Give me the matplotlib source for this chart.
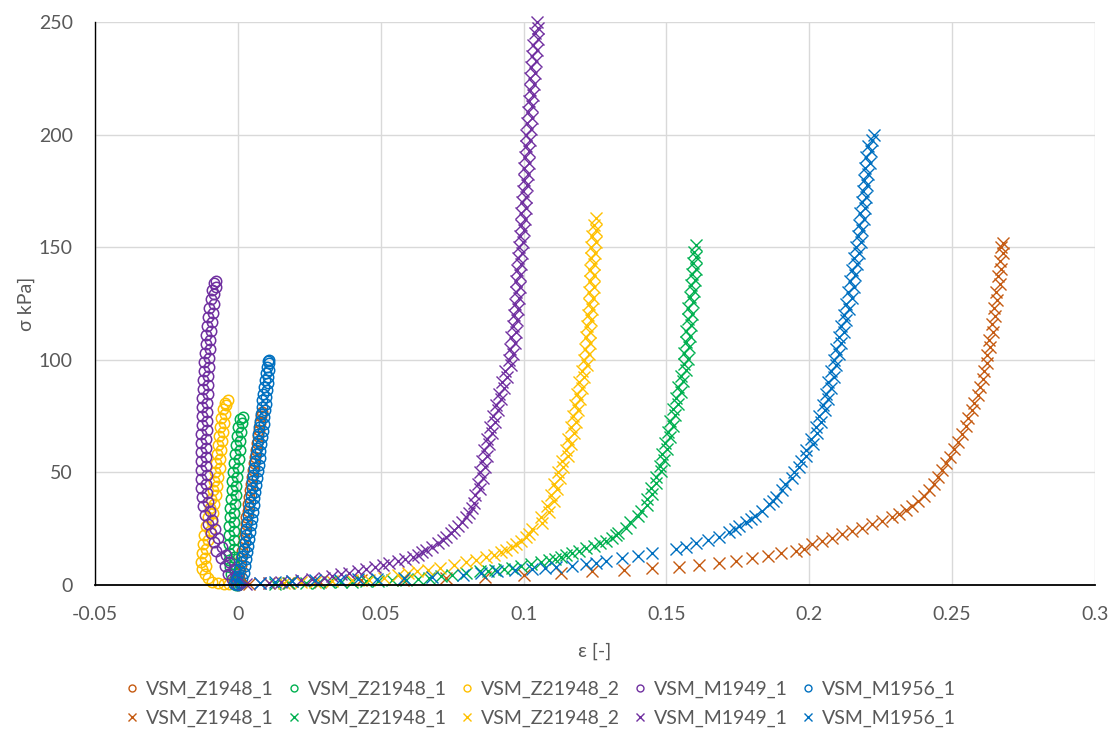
import matplotlib
matplotlib.use("Agg")
import matplotlib.pyplot as plt
from matplotlib.lines import Line2D

# ---------------- data ----------------
series_names = ["VSM_Z1948_1", "VSM_Z21948_1", "VSM_Z21948_2", "VSM_M1949_1", "VSM_M1956_1"]
series_colors = ["#C55A11", "#00B050", "#FFC000", "#7030A0", "#0070C0"]

x_ticks = [-0.05, 0, 0.05, 0.1, 0.15, 0.2, 0.25, 0.3]
x_tick_labels = ["-0.05", "0", "0.05", "0.1", "0.15", "0.2", "0.25", "0.3"]
y_ticks = [0, 50, 100, 150, 200, 250]
y_tick_labels = ["0", "50", "100", "150", "200", "250"]

# circle series (eps, sigma)
Z1948_1_circ = [(0.0, 0), (0.0005, 3), (0.0008, 6), (0.001, 9), (0.0012, 12), (0.0014, 15),
                (0.0018, 18), (0.0021, 21), (0.0024, 24), (0.0027, 27), (0.003, 30), (0.0034, 33),
                (0.0037, 36), (0.004, 39), (0.0044, 42), (0.0047, 45), (0.005, 48), (0.0054, 51),
                (0.0057, 54), (0.006, 57), (0.0064, 60), (0.0067, 63), (0.007, 66), (0.0074, 69),
                (0.0077, 72), (0.008, 75), (0.0085, 77)]

Z21948_1_circ = [(-0.0005, 0), (0.0005, 1), (-0.0015, 2), (-0.0005, 3.5), (-0.0025, 5), (-0.001, 6.5),
                 (-0.0028, 8), (-0.0012, 9.5), (-0.003, 11), (-0.0014, 12.5), (-0.003, 14),
                 (-0.0015, 16), (-0.003, 18), (-0.0015, 20), (-0.003, 22), (-0.0014, 24),
                 (-0.003, 26), (-0.0013, 28), (-0.0028, 30), (-0.0012, 32), (-0.0027, 34),
                 (-0.001, 36), (-0.0025, 38), (-0.0008, 40), (-0.0022, 42), (-0.0005, 44),
                 (-0.002, 46), (-0.0003, 48), (-0.0017, 50), (0.0, 52), (-0.0013, 54),
                 (0.0003, 56), (-0.001, 58), (0.0006, 60), (-0.0006, 62), (0.0009, 64),
                 (-0.0003, 66), (0.0012, 68), (0.0, 70), (0.0015, 72), (0.0006, 73.5),
                 (0.0017, 74.5)]

Z21948_2_circ = [(-0.003, 0.3), (-0.005, 0.5), (-0.007, 0.8), (-0.009, 1.5), (-0.0105, 3),
                 (-0.0115, 5), (-0.0125, 7), (-0.011, 8.5), (-0.013, 10), (-0.0115, 12),
                 (-0.0127, 14), (-0.011, 16), (-0.0122, 18), (-0.0105, 20), (-0.0117, 22),
                 (-0.0098, 24), (-0.011, 26), (-0.0092, 28), (-0.0104, 30), (-0.0087, 32),
                 (-0.0098, 34), (-0.0082, 36), (-0.0093, 38), (-0.0077, 40), (-0.0088, 42),
                 (-0.0072, 44), (-0.0083, 46), (-0.0068, 48), (-0.0079, 50), (-0.0064, 52),
                 (-0.0075, 54), (-0.0061, 56), (-0.0072, 58), (-0.0058, 60), (-0.0069, 62),
                 (-0.0055, 64), (-0.0066, 66), (-0.0052, 68), (-0.0062, 70), (-0.0048, 72),
                 (-0.0058, 74), (-0.0044, 76), (-0.0052, 78), (-0.004, 80), (-0.0045, 81),
                 (-0.0035, 82)]

M1949_1_circ = [(-0.0005, 0.5), (0.0008, 1.5), (-0.002, 2.5), (-0.0005, 4), (-0.0035, 5),
                (-0.0015, 7), (-0.0045, 8.5), (-0.003, 10), (-0.006, 12), (-0.004, 13.5),
                (-0.0075, 15), (-0.0055, 17), (-0.0085, 19), (-0.007, 21), (-0.0095, 23),
                (-0.008, 25), (-0.0105, 27), (-0.009, 29), (-0.0115, 31), (-0.0098, 33),
                (-0.0122, 35), (-0.0105, 37), (-0.0127, 39), (-0.0108, 41), (-0.0128, 43),
                (-0.011, 45), (-0.0128, 47), (-0.0108, 49), (-0.013, 51), (-0.011, 53),
                (-0.0129, 55), (-0.011, 57), (-0.013, 59), (-0.0112, 61), (-0.0128, 63),
                (-0.011, 65), (-0.0128, 67), (-0.0108, 69), (-0.0127, 71), (-0.0108, 73),
                (-0.0126, 75), (-0.0108, 77), (-0.0125, 79), (-0.0107, 81), (-0.0124, 83),
                (-0.0106, 85), (-0.0123, 87), (-0.0105, 89), (-0.0122, 91), (-0.0104, 93),
                (-0.012, 95), (-0.0102, 97), (-0.0118, 99), (-0.010, 101), (-0.0116, 103),
                (-0.0098, 105), (-0.0113, 107), (-0.0096, 109), (-0.011, 111), (-0.0093, 113),
                (-0.0107, 115), (-0.009, 117), (-0.0104, 119), (-0.0088, 121), (-0.010, 123),
                (-0.0085, 125), (-0.0095, 127), (-0.0082, 129), (-0.009, 131), (-0.0078, 132.5),
                (-0.0085, 134), (-0.0075, 135)]

M1956_1_circ = [(0.0, 0), (-0.0012, 0.5), (0.001, 1), (-0.0005, 2), (0.0015, 3), (0.0, 4),
                (0.002, 5.5), (0.0005, 7), (0.0025, 8.5), (0.001, 10), (0.003, 11.5),
                (0.0015, 13), (0.0033, 14.5), (0.002, 16), (0.0037, 17.5), (0.0025, 19),
                (0.004, 20.5), (0.0028, 22), (0.0043, 23.5), (0.003, 25), (0.0046, 26.5),
                (0.0033, 28), (0.0049, 29.5), (0.0036, 31), (0.0052, 32.5), (0.0039, 34),
                (0.0055, 35.5), (0.0042, 37), (0.0058, 38.5), (0.0045, 40), (0.0061, 41.5),
                (0.0048, 43), (0.0064, 44.5), (0.0051, 46), (0.0067, 47.5), (0.0054, 49),
                (0.007, 50.5), (0.0057, 52), (0.0073, 53.5), (0.006, 55), (0.0076, 56.5),
                (0.0063, 58), (0.0079, 59.5), (0.0066, 61), (0.0082, 62.5), (0.0069, 64),
                (0.0085, 65.5), (0.0072, 67), (0.0087, 68.5), (0.0075, 70), (0.009, 71.5),
                (0.0078, 73), (0.0092, 74.5), (0.008, 76), (0.0095, 77.5), (0.0083, 79),
                (0.0097, 80.5), (0.0086, 82), (0.0099, 83.5), (0.0089, 85), (0.0102, 86.5),
                (0.0092, 88), (0.0104, 89.5), (0.0095, 91), (0.0106, 92.5), (0.0098, 94),
                (0.0108, 95.5), (0.0101, 97), (0.011, 98.5), (0.0105, 99.5), (0.011, 100)]

# cross series (eps, sigma)
Z1948_1_cross = [(0.004, 0.5), (0.0175, 1), (0.0287, 1.5), (0.043, 2), (0.0577, 2.2), (0.073, 3),
                 (0.0864, 3.7), (0.1003, 4.4), (0.113, 5.3), (0.124, 6), (0.1353, 6.8),
                 (0.145, 7.5), (0.1545, 8), (0.1615, 9), (0.1685, 9.8), (0.1745, 10.8),
                 (0.18, 11.8), (0.1855, 13), (0.19, 14), (0.1955, 15.3), (0.198, 16.2),
                 (0.201, 18), (0.2045, 19.5), (0.208, 21), (0.2115, 22.5), (0.215, 24),
                 (0.2185, 25.5), (0.222, 27), (0.2255, 28.5), (0.229, 30), (0.2315, 31.7),
                 (0.234, 33.3), (0.236, 35), (0.238, 37.3), (0.240, 39.7), (0.242, 42),
                 (0.2435, 45), (0.245, 48), (0.2465, 51), (0.2478, 54), (0.2492, 57),
                 (0.2507, 60.5), (0.252, 63.5), (0.2535, 67), (0.2548, 70.5), (0.2555, 74),
                 (0.257, 77.5), (0.2578, 81), (0.259, 84.5), (0.2598, 88), (0.2607, 91.5),
                 (0.2612, 95), (0.2622, 98.5), (0.2622, 102), (0.2632, 105.5), (0.263, 109),
                 (0.2642, 112.5), (0.2638, 116), (0.265, 119.5), (0.2647, 123), (0.2658, 126.5),
                 (0.2655, 130), (0.2667, 133.5), (0.2662, 137), (0.2672, 140.5), (0.2668, 144),
                 (0.2678, 147.5), (0.2672, 150), (0.2678, 152)]

Z21948_1_cross = [(0.013, 0.5), (0.018, 0.8), (0.024, 1), (0.028, 1.1), (0.032, 1.2), (0.036, 1.3),
                  (0.040, 1.4), (0.045, 1.6), (0.049, 1.8), (0.054, 2.0), (0.059, 2.2),
                  (0.063, 2.7), (0.067, 3.2), (0.071, 3.8), (0.075, 4.4), (0.080, 5.2),
                  (0.0846, 6), (0.0875, 6.4), (0.090, 6.8), (0.093, 7.1), (0.096, 7.5),
                  (0.099, 8.3), (0.1025, 9.2), (0.106, 10.1), (0.109, 11), (0.111, 11.7),
                  (0.113, 12.5), (0.115, 13.2), (0.117, 14), (0.1195, 15.2), (0.122, 16.5),
                  (0.1245, 17.5), (0.1266, 18.5), (0.129, 19.7), (0.131, 21), (0.1325, 22),
                  (0.1329, 23), (0.1360, 25.5), (0.1373, 28), (0.1400, 30.5), (0.1410, 33),
                  (0.1432, 35.5), (0.1431, 38), (0.1450, 40.5), (0.1446, 43), (0.1465, 45.5),
                  (0.1462, 48), (0.1482, 50.5), (0.1477, 53), (0.1493, 55.5), (0.1485, 58),
                  (0.1501, 60.5), (0.1495, 63), (0.1513, 65.5), (0.1505, 68), (0.1522, 70.5),
                  (0.1513, 73), (0.1531, 75.5), (0.1522, 78), (0.1540, 80.5), (0.1532, 83),
                  (0.1550, 85.5), (0.1541, 88), (0.1559, 90.5), (0.1550, 93), (0.1567, 95.5),
                  (0.1560, 98), (0.1575, 100.5), (0.1563, 103), (0.1579, 105.5), (0.1567, 108),
                  (0.1582, 110.5), (0.1570, 113), (0.1586, 115.5), (0.1574, 118), (0.1589, 120.5),
                  (0.1577, 123), (0.1592, 125.5), (0.1581, 128), (0.1596, 130.5), (0.1585, 133),
                  (0.1600, 135.5), (0.1589, 138), (0.1602, 140.5), (0.1592, 143), (0.1605, 145.5),
                  (0.1597, 148), (0.1605, 151)]

Z21948_2_cross = [(0.011, 1), (0.016, 1.1), (0.022, 1.2), (0.027, 1.5), (0.033, 1.8), (0.040, 2.0),
                  (0.046, 2.2), (0.051, 3.2), (0.056, 4.4), (0.0595, 5.2), (0.0626, 6),
                  (0.0665, 6.8), (0.0706, 7.5), (0.0755, 8.8), (0.080, 10), (0.0835, 11.2),
                  (0.087, 12.5), (0.0895, 13.5), (0.092, 14.5), (0.094, 15.7), (0.096, 17),
                  (0.0975, 18.2), (0.099, 19.5), (0.101, 21.5), (0.102, 22.8),
                  (0.1030, 25), (0.1064, 27.5), (0.1060, 30), (0.1088, 32.5), (0.1083, 35),
                  (0.1105, 37.5), (0.1096, 40), (0.1116, 42.5), (0.1106, 45), (0.1127, 47.5),
                  (0.1119, 50), (0.1139, 52.5), (0.1133, 55), (0.1155, 57.5), (0.1148, 60),
                  (0.1166, 62.5), (0.1157, 65), (0.1175, 67.5), (0.1165, 70), (0.1183, 72.5),
                  (0.1173, 75), (0.1190, 77.5), (0.1180, 80), (0.1197, 82.5), (0.1187, 85),
                  (0.1204, 87.5), (0.1193, 90), (0.1212, 92.5), (0.1203, 95), (0.1222, 97.5),
                  (0.1213, 100), (0.1228, 102.5), (0.1216, 105), (0.1231, 107.5), (0.1219, 110),
                  (0.1234, 112.5), (0.1222, 115), (0.1237, 117.5), (0.1225, 120), (0.1240, 122.5),
                  (0.1228, 125), (0.1243, 127.5), (0.1230, 130), (0.1245, 132.5), (0.1232, 135),
                  (0.1246, 137.5), (0.1233, 140), (0.1248, 142.5), (0.1235, 145), (0.1250, 147.5),
                  (0.1236, 150), (0.1252, 152.5), (0.1240, 155), (0.1255, 157.5), (0.1245, 160),
                  (0.1252, 163)]

M1949_1_cross = [(0.003, 0.3), (0.0077, 0.8), (0.011, 1.0), (0.015, 1.4), (0.019, 1.8), (0.022, 2.1),
                 (0.026, 2.7), (0.030, 3.3), (0.033, 4.0), (0.036, 4.7), (0.039, 5.5), (0.042, 6.2),
                 (0.045, 7.0), (0.048, 8.0), (0.0507, 9.0), (0.053, 9.8), (0.056, 10.8),
                 (0.0585, 11.6), (0.0612, 12.5), (0.063, 13.5), (0.0645, 14.5), (0.066, 15.6),
                 (0.068, 17), (0.070, 18.5), (0.0717, 20), (0.073, 21.5), (0.0745, 23),
                 (0.0758, 24.5), (0.077, 26), (0.0785, 28), (0.080, 30), (0.081, 32), (0.082, 34),
                 (0.0828, 36.5), (0.0830, 40), (0.0848, 42.5), (0.0839, 45), (0.0857, 47.5),
                 (0.0849, 50), (0.0866, 52.5), (0.0856, 55), (0.0873, 57.5), (0.0863, 60),
                 (0.0880, 62.5), (0.0873, 65), (0.0890, 67.5), (0.0883, 70), (0.0900, 72.5),
                 (0.0894, 75), (0.0912, 77.5), (0.0905, 80), (0.0922, 82.5), (0.0915, 85),
                 (0.0932, 87.5), (0.0925, 90), (0.0943, 92.5), (0.0936, 95), (0.0955, 97.5),
                 (0.0948, 100), (0.0964, 102.5), (0.0953, 105), (0.0969, 107.5), (0.0957, 110),
                 (0.0973, 112.5), (0.0962, 115), (0.0977, 117.5), (0.0967, 120), (0.0980, 122.5),
                 (0.0970, 125), (0.0983, 127.5), (0.0972, 130), (0.0986, 132.5), (0.0975, 135),
                 (0.0989, 137.5), (0.0978, 140), (0.0992, 142.5), (0.0981, 145), (0.0995, 147.5),
                 (0.0983, 150), (0.0998, 152.5), (0.0987, 155), (0.1001, 157.5), (0.0990, 160),
                 (0.1004, 162.5), (0.0992, 165), (0.1007, 167.5), (0.0995, 170), (0.1010, 172.5),
                 (0.0998, 175), (0.1013, 177.5), (0.1001, 180), (0.1016, 182.5), (0.1003, 185),
                 (0.1018, 187.5), (0.1005, 190), (0.1020, 192.5), (0.1007, 195), (0.1022, 197.5),
                 (0.1008, 200), (0.1025, 202.5), (0.1011, 205), (0.1028, 207.5), (0.1014, 210),
                 (0.1031, 212.5), (0.1018, 215), (0.1034, 217.5), (0.1021, 220), (0.1037, 222.5),
                 (0.1024, 225), (0.1040, 227.5), (0.1027, 230), (0.1043, 232.5), (0.1031, 235),
                 (0.1046, 237.5), (0.1034, 240), (0.1049, 242.5), (0.1039, 245), (0.1051, 247.5),
                 (0.1047, 250)]

M1956_1_cross = [(0.0077, 1), (0.013, 1.4), (0.019, 1.8), (0.027, 2.1), (0.0357, 2.3), (0.042, 2.5),
                 (0.0486, 2.7), (0.058, 3.2), (0.068, 3.7), (0.0787, 4.5), (0.085, 5.2),
                 (0.0906, 6), (0.097, 6.5), (0.103, 7), (0.1075, 7.5), (0.1115, 8), (0.117, 8.6),
                 (0.122, 9.3), (0.1255, 9.9), (0.129, 10.5), (0.1346, 12), (0.140, 13),
                 (0.145, 14), (0.1535, 16), (0.157, 17), (0.1605, 18.6), (0.1645, 20),
                 (0.1685, 21.5), (0.172, 23.5), (0.174, 24.7), (0.1755, 26), (0.178, 28),
                 (0.1795, 29.2), (0.181, 30.5), (0.1835, 33), (0.186, 36), (0.1873, 37.5),
                 (0.1885, 39), (0.1906, 42),
                 (0.1915, 45), (0.1938, 47.5), (0.1945, 50), (0.1965, 52.5), (0.1970, 55),
                 (0.1990, 57.5), (0.1990, 60), (0.2012, 62.5), (0.2006, 65), (0.2028, 67.5),
                 (0.2022, 70), (0.2042, 72.5), (0.2034, 75), (0.2055, 77.5), (0.2047, 80),
                 (0.2066, 82.5), (0.2057, 85), (0.2075, 87.5), (0.2067, 90), (0.2085, 92.5),
                 (0.2076, 95), (0.2094, 97.5), (0.2085, 100), (0.2103, 102.5), (0.2094, 105),
                 (0.2112, 107.5), (0.2103, 110), (0.2121, 112.5), (0.2112, 115), (0.2130, 117.5),
                 (0.2121, 120), (0.2139, 122.5), (0.2130, 125), (0.2148, 127.5), (0.2137, 130),
                 (0.2155, 132.5), (0.2144, 135), (0.2161, 137.5), (0.2151, 140), (0.2168, 142.5),
                 (0.2158, 145), (0.2175, 147.5), (0.2163, 150), (0.2181, 152.5), (0.2169, 155),
                 (0.2186, 157.5), (0.2174, 160), (0.2191, 162.5), (0.2179, 165), (0.2195, 167.5),
                 (0.2183, 170), (0.2199, 172.5), (0.2187, 175), (0.2203, 177.5), (0.2191, 180),
                 (0.2207, 182.5), (0.2196, 185), (0.2212, 187.5), (0.2200, 190), (0.2216, 192.5),
                 (0.2205, 195), (0.2220, 197.5), (0.2225, 200)]

circle_series = [Z1948_1_circ, Z21948_1_circ, Z21948_2_circ, M1949_1_circ, M1956_1_circ]
cross_series = [Z1948_1_cross, Z21948_1_cross, Z21948_2_cross, M1949_1_cross, M1956_1_cross]

# ---------------- plot ----------------
plt.rcParams['font.family'] = ['Lato', 'DejaVu Sans']
text_color = "#595959"

fig = plt.figure(figsize=(11.14, 7.51), dpi=100)
ax = fig.add_axes([95 / 1114, 1 - 585 / 751, 1000 / 1114, 563 / 751])

for pts, col in zip(circle_series, series_colors):
    xs = [p[0] for p in pts]
    ys = [p[1] for p in pts]
    ax.plot(xs, ys, linestyle='none', marker='o', markersize=7.5, markerfacecolor='none',
            markeredgecolor=col, markeredgewidth=1.1, clip_on=False)

for pts, col in zip(cross_series, series_colors):
    xs = [p[0] for p in pts]
    ys = [p[1] for p in pts]
    ax.plot(xs, ys, linestyle='none', marker='x', markersize=8, markeredgecolor=col,
            markeredgewidth=1.0, clip_on=False)

ax.set_xlim(-0.05, 0.3)
ax.set_ylim(0, 250)
ax.set_xticks(x_ticks)
ax.set_xticklabels(x_tick_labels)
ax.set_yticks(y_ticks)
ax.set_yticklabels(y_tick_labels)
ax.tick_params(axis='both', length=0, labelsize=14, labelcolor=text_color)
ax.tick_params(axis='y', pad=16)
ax.tick_params(axis='x', pad=15)
ax.grid(True, color="#D9D9D9", linewidth=1.0)
ax.set_axisbelow(True)
for s in ['top', 'right']:
    ax.spines[s].set_visible(False)
ax.spines['left'].set_color('black')
ax.spines['bottom'].set_color('black')
ax.spines['left'].set_linewidth(1.0)
ax.spines['bottom'].set_linewidth(1.3)

ax.set_xlabel("ε [-]", fontsize=14, color=text_color, labelpad=14)
ax.set_ylabel("σ kPa]", fontsize=14, color=text_color, labelpad=3)

# legend: row 1 circles, row 2 crosses (matplotlib fills column by column)
handles = []
labels = []
for name, col in zip(series_names, series_colors):
    handles.append(Line2D([], [], linestyle='none', marker='o', markersize=5,
                          markerfacecolor='none', markeredgecolor=col, markeredgewidth=1.0))
    labels.append(name)
    handles.append(Line2D([], [], linestyle='none', marker='x', markersize=6,
                          markeredgecolor=col, markeredgewidth=1.0))
    labels.append(name)

leg = fig.legend(handles, labels, ncol=5, loc='center', bbox_to_anchor=(540 / 1114, 1 - 704 / 751),
                 frameon=False, fontsize=14, handlelength=0.8, handletextpad=0.3,
                 columnspacing=0.65, labelspacing=0.62, borderpad=0)
for t in leg.get_texts():
    t.set_color(text_color)

fig.savefig("out.png", dpi=100)
